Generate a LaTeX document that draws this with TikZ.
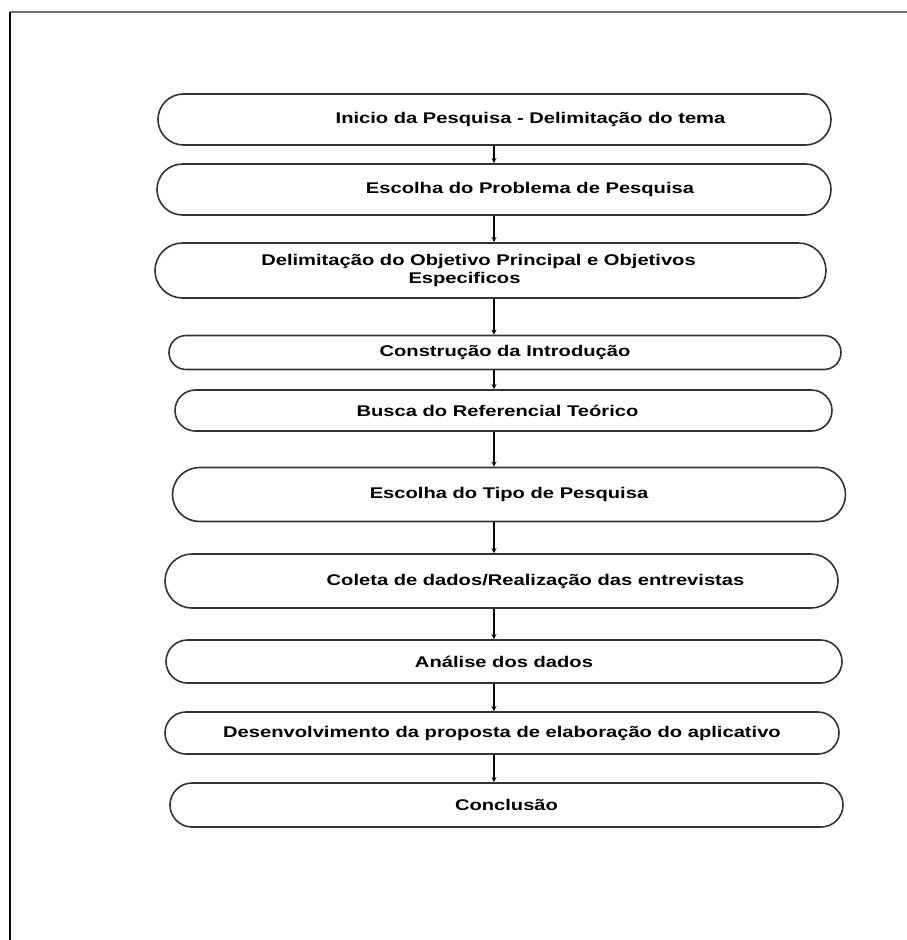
\documentclass[tikz,border=0pt]{standalone}
\usepackage{fontspec}
\setmainfont[FakeStretch=1.3]{Liberation Sans}
\usetikzlibrary{arrows,shapes.misc}

\tikzset{
  stage/.style={rounded rectangle, draw=black!80, line width=1.6pt, inner sep=0pt,
    font=\fontsize{15.5}{18}\selectfont\bfseries, align=center},
  flow/.style={->, line width=1.3pt}
}

\begin{document}
\begin{tikzpicture}[>=stealth, x=1pt, y=-1pt]
    \useasboundingbox (0,0) rectangle (907,940);
    % page frame
    \draw[line width=2.5pt, black!55] (10,12) -- (907,12);
    \draw[line width=2pt] (10,12) -- (10,940);
    % stages
    \node[stage, minimum width=673pt, minimum height=51pt] (s1) at (494.5,119.5)
      {\hspace*{72pt}Inicio da Pesquisa - Delimitação do tema};
    \node[stage, minimum width=674pt, minimum height=51pt] (s2) at (494,189.5)
      {\hspace*{72pt}Escolha do Problema de Pesquisa};
    \node[stage, minimum width=671pt, minimum height=55pt] (s3) at (490.5,270.5)
      {Delimitação do Objetivo Principal e Objetivos\hspace*{24pt}\\Especificos\hspace*{52pt}};
    \node[stage, minimum width=672pt, minimum height=34pt] (s4) at (505,352.5)
      {Construção da Introdução};
    \node[stage, minimum width=657pt, minimum height=41pt] (s5) at (503.5,410.5)
      {Busca do Referencial Teórico\hspace*{12pt}};
    \node[stage, minimum width=673pt, minimum height=54pt] (s6) at (509,494.5)
      {Escolha do Tipo de Pesquisa};
    \node[stage, minimum width=673pt, minimum height=54pt] (s7) at (501.5,581)
      {\hspace*{68pt}Coleta de dados/Realização das entrevistas};
    \node[stage, minimum width=676pt, minimum height=43pt] (s8) at (504,661.5)
      {Análise dos dados};
    \node[stage, minimum width=674pt, minimum height=42pt] (s9) at (502,733)
      {Desenvolvimento da proposta de elaboração do aplicativo};
    \node[stage, minimum width=673pt, minimum height=44pt] (s10) at (506.5,805)
      {Conclusão};
    % connectors
    \coordinate (ax) at (494,0);
    \foreach \a/\b in {s1/s2,s2/s3,s3/s4,s4/s5,s5/s6,s6/s7,s7/s8,s8/s9,s9/s10}{%
      \draw[flow] (\a.south -| ax) -- (\b.north -| ax);}
\end{tikzpicture}
\end{document}
